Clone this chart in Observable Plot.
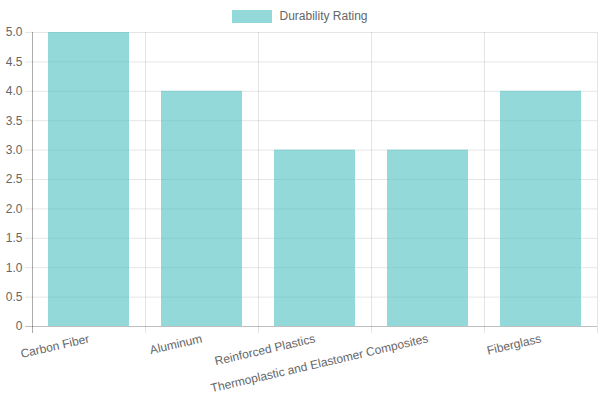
<!DOCTYPE html>
<html>
<head>
<meta charset="utf-8">
<script src="https://cdn.jsdelivr.net/npm/d3@7"></script>
<script src="https://cdn.jsdelivr.net/npm/@observablehq/plot@0.6"></script>
<style>
  html, body { margin: 0; padding: 0; background: #fff; }
  body { width: 600px; height: 400px; overflow: hidden; font-family: "Liberation Sans", Arial, sans-serif; }
  #legend { height: 26px; display: flex; justify-content: center; align-items: center; padding-top: 6px; box-sizing: border-box; font-size: 12px; color: #666; }
  #legend .box { width: 40px; height: 13px; background: rgba(75,192,192,0.6); margin-right: 7px; }
</style>
</head>
<body>
<div id="legend"><span class="box"></span><span>Durability Rating</span></div>
<div id="chart"></div>
<script>
const categories = ["Carbon Fiber", "Aluminum", "Reinforced Plastics", "Thermoplastic and Elastomer Composites", "Fiberglass"];
const durability = [5, 4, 3, 3, 4];
const yTicks = [0, 0.5, 1, 1.5, 2, 2.5, 3, 3.5, 4, 4.5, 5];
const seriesName = "Durability Rating";

const data = categories.map((c, i) => ({category: c, value: durability[i]}));

const W = 600, H = 374, ML = 32, MR = 3, MT = 6, MB = 74;
const step = (W - ML - MR) / categories.length;
const grid = "rgba(0,0,0,0.1)";
const axisLine = "rgba(0,0,0,0.25)";

const chart = Plot.plot({
  width: W,
  height: H,
  marginLeft: ML,
  marginRight: MR,
  marginTop: MT,
  marginBottom: MB,
  style: {fontFamily: "Liberation Sans, Arial, sans-serif", fontSize: "12px", color: "#666", background: "#fff"},
  x: {domain: categories, paddingInner: 0.28, paddingOuter: 0.14, label: null},
  y: {domain: [0, 5], label: null},
  marks: [
    Plot.ruleY(yTicks.filter(d => d !== 0), {y: d => d, stroke: grid, insetLeft: -7}),
    Plot.ruleX(categories, {x: d => d, dx: -step / 2, stroke: grid, insetBottom: -7}),
    Plot.ruleX(categories.slice(-1), {x: d => d, dx: step / 2, stroke: grid, insetBottom: -7}),
    Plot.barY(data, {x: "category", y: "value", fill: "rgb(75,192,192)", fillOpacity: 0.6, title: d => `${seriesName}: ${d.value}`}),
    Plot.ruleY([0], {stroke: axisLine, insetLeft: -7}),
    Plot.ruleX(categories.slice(0, 1), {x: d => d, dx: -step / 2, stroke: axisLine, insetBottom: -7}),
    Plot.axisY({ticks: yTicks, tickSize: 0, tickPadding: 10, tickFormat: d => d === 0 ? "0" : d.toFixed(1), fill: "#666", fontSize: 12}),
    Plot.axisX({tickSize: 0, tickRotate: -13, tickPadding: 12, fill: "#666", fontSize: 12})
  ]
});
document.getElementById("chart").appendChild(chart);
</script>
</body>
</html>
